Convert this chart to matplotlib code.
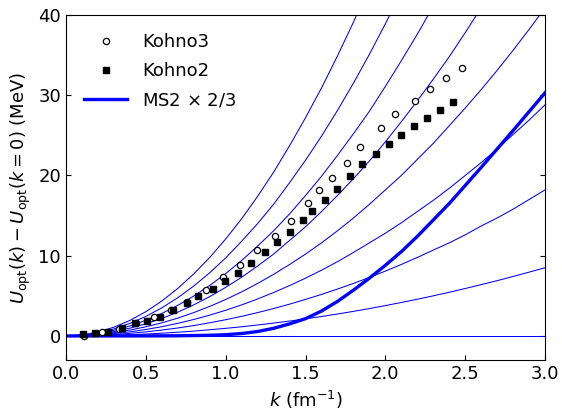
import matplotlib
matplotlib.use("Agg")
import matplotlib.pyplot as plt

# k grid for the thin reference curves (fm^-1), step 0.1
k_grid = [0.0, 0.1, 0.2, 0.3, 0.4, 0.5, 0.6, 0.7, 0.8, 0.9, 1.0, 1.1, 1.2, 1.3, 1.4, 1.5,
          1.6, 1.7, 1.8, 1.9, 2.0, 2.1, 2.2, 2.3, 2.4, 2.5, 2.6, 2.7, 2.8, 2.9, 3.0]

# thin curves, values (MeV)
curve_0 = [0.0] * 31
curve_1 = [0, 0.01, 0.04, 0.09, 0.15, 0.24, 0.34, 0.46, 0.60, 0.77, 0.945, 1.14, 1.36, 1.60, 1.85,
           2.13, 2.42, 2.73, 3.06, 3.41, 3.78, 4.17, 4.57, 5.0, 5.44, 5.91, 6.39, 6.89, 7.41, 7.95, 8.5]
curve_2 = [0, 0.02, 0.08, 0.18, 0.32, 0.51, 0.73, 0.99, 1.29, 1.64, 2.02, 2.44, 2.91, 3.41, 3.96,
           4.55, 5.17, 5.84, 6.54, 7.29, 8.08, 8.91, 9.78, 10.7, 11.6, 12.6, 13.7, 14.7, 15.8, 17.0, 18.2]
curve_3 = [0, 0.03, 0.13, 0.29, 0.51, 0.8, 1.15, 1.57, 2.05, 2.59, 3.2, 3.87, 4.61, 5.41, 6.27,
           7.2, 8.19, 9.25, 10.4, 11.6, 12.8, 14.1, 15.5, 16.9, 18.4, 20.0, 21.6, 23.3, 25.1, 26.9, 28.8]
curve_4 = [0, 0.05, 0.18, 0.41, 0.73, 1.14, 1.63, 2.22, 2.91, 3.68, 4.54, 5.49, 6.54, 7.67, 8.9,
           10.2, 11.6, 13.1, 14.7, 16.4, 18.2, 20.0, 22.0, 24.0, 26.2, 28.4, 30.7, 33.1, 35.6, 38.2, 40.9]
curve_5 = [0, 0.06, 0.24, 0.54, 0.97, 1.51, 2.18, 2.96, 3.87, 4.9, 6.05, 7.32, 8.71, 10.2, 11.9,
           13.6, 15.5, 17.5, 19.6, 21.8, 24.2, 26.7, 29.3, 32.0, 34.8, 37.8, 40.9]
curve_6 = [0, 0.08, 0.31, 0.70, 1.24, 1.94, 2.80, 3.81, 4.97, 6.29, 7.77, 9.4, 11.2, 13.1, 15.2,
           17.5, 19.9, 22.5, 25.2, 28.0, 31.1, 34.3, 37.6, 41.1]
curve_7 = [0, 0.10, 0.39, 0.87, 1.56, 2.43, 3.5, 4.76, 6.22, 7.87, 9.72, 11.8, 14.0, 16.4, 19.1,
           21.9, 24.9, 28.1, 31.5, 35.1, 38.9, 42.9]
curve_8 = [0, 0.12, 0.48, 1.09, 1.93, 3.02, 4.35, 5.92, 7.73, 9.78, 12.08, 14.6, 17.4, 20.4, 23.7,
           27.2, 30.9, 34.9, 39.1, 43.6]
curves = [curve_0, curve_1, curve_2, curve_3, curve_4, curve_5, curve_6, curve_7, curve_8]

# MS2 x 2/3
ms2_k = [0.0, 0.4, 0.7, 0.9, 1.0, 1.1, 1.2, 1.3, 1.4, 1.5, 1.6, 1.7, 1.8, 1.9,
         2.0, 2.1, 2.2, 2.4, 2.6, 2.8, 3.0]
ms2_u = [0.0, 0.0, 0.02, 0.08, 0.15, 0.3, 0.55, 0.95, 1.5, 2.15, 3.1, 4.3, 5.7, 7.2,
         8.8, 10.5, 12.4, 16.5, 21.0, 25.6, 30.3]

# Kohno3 (open circles)
k3_k = [0.11, 0.225, 0.33, 0.438, 0.549, 0.66, 0.758, 0.877, 0.981, 1.09, 1.198, 1.307,
        1.407, 1.517, 1.584, 1.664, 1.759, 1.841, 1.970, 2.062, 2.185, 2.279, 2.379, 2.478]
k3_u = [0.0, 0.5, 0.9, 1.6, 2.4, 3.2, 4.2, 5.7, 7.3, 8.85, 10.7, 12.5,
        14.3, 16.6, 18.2, 19.7, 21.6, 23.6, 25.9, 27.6, 29.3, 30.8, 32.1, 33.4]

# Kohno2 (filled squares)
k2_k = [0.104, 0.18, 0.265, 0.35, 0.43, 0.51, 0.589, 0.672, 0.756, 0.828, 0.918, 0.996,
        1.075, 1.156, 1.246, 1.319, 1.403, 1.482, 1.542, 1.622, 1.697, 1.778, 1.856,
        1.939, 2.02, 2.10, 2.181, 2.261, 2.342, 2.423]
k2_u = [0.2, 0.33, 0.54, 0.96, 1.58, 1.9, 2.33, 3.24, 4.15, 4.99, 5.82, 6.86,
        7.9, 9.14, 10.5, 11.7, 13.0, 14.4, 15.6, 17.0, 18.3, 19.9, 21.4,
        22.7, 23.9, 25.1, 26.2, 27.2, 28.1, 29.1]

matplotlib.rcParams.update({'font.size': 13})

fig = plt.figure(figsize=(5.62, 4.11), dpi=100)
ax = fig.add_axes([0.1174, 0.1241, 0.8524, 0.8394])

for c in curves:
    ax.plot(k_grid[:len(c)], c, color="blue", lw=0.75)

l_ms2, = ax.plot(ms2_k, ms2_u, color="blue", lw=2.4, label=r"MS2 $\times$ 2/3")
l_k3, = ax.plot(k3_k, k3_u, "o", mfc="white", mec="black", ms=4.5, mew=0.9, label="Kohno3")
l_k2, = ax.plot(k2_k, k2_u, "s", color="black", ms=4.5, label="Kohno2")

ax.legend(handles=[l_k3, l_k2, l_ms2], loc="upper left", frameon=False,
          handlelength=2.4, borderaxespad=0.6, labelspacing=0.62)

ax.set_xlim(0, 3.0)
ax.set_ylim(-3, 40)
ax.set_xticks([0.0, 0.5, 1.0, 1.5, 2.0, 2.5, 3.0])
ax.set_yticks([0, 10, 20, 30, 40])
ax.tick_params(direction="in", right=True, top=False)

ax.set_xlabel(r"$k$ (fm$^{-1}$)")
ax.set_ylabel(r"$U_{\rm opt}(k) - U_{\rm opt}(k=0)$ (MeV)")

plt.savefig("out.png", dpi=100)
